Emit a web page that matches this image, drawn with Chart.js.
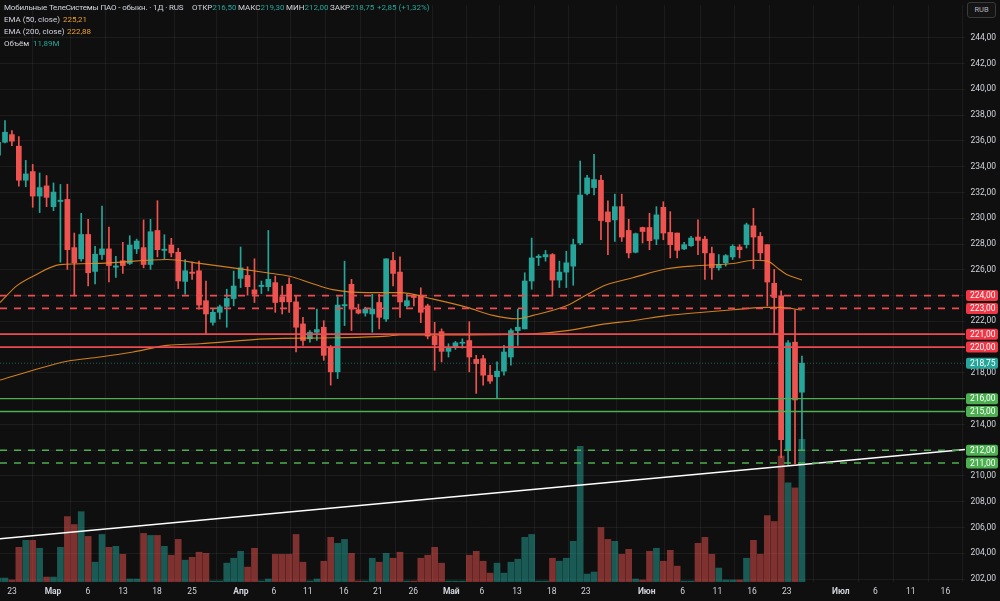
<!DOCTYPE html>
<html>
<head>
<meta charset="utf-8">
<script src="https://cdn.jsdelivr.net/npm/chart.js@4.4.1/dist/chart.umd.min.js"></script>
<style>
html,body{margin:0;padding:0;background:#0f0f0f;}
#wrap{position:relative;width:1000px;height:601px;background:#0f0f0f;overflow:hidden;}
#wrap canvas{position:absolute;left:0;top:0;}
.lg{position:absolute;font-family:Roboto,"Liberation Sans",sans-serif;font-size:8px;line-height:10px;white-space:nowrap;color:#d1d4dc;}
.t{color:#26a69a;}
.o{color:#f0a030;}
#rub{position:absolute;left:967px;top:2px;width:29px;height:16px;border:1px solid #3a3a3a;border-radius:3px;box-sizing:border-box;
font-family:Roboto,"Liberation Sans",sans-serif;font-size:7.5px;line-height:14px;text-align:center;color:#b2b5be;background:#141414;}
</style>
</head>
<body>
<div id="wrap">
<canvas id="c" width="1000" height="601"></canvas>
<div class="lg" style="left:4px;top:3px;letter-spacing:-0.15px;">Мобильные ТелеСистемы ПАО - обыкн. · 1Д · RUS</div>
<div class="lg" style="left:192px;top:3px;">ОТКР<span class="t">216,50</span></div>
<div class="lg" style="left:238px;top:3px;">МАКС<span class="t">219,30</span></div>
<div class="lg" style="left:286px;top:3px;">МИН<span class="t">212,00</span></div>
<div class="lg" style="left:330px;top:3px;">ЗАКР<span class="t">218,75</span></div>
<div class="lg t" style="left:377px;top:3px;">+2,85 (+1,32%)</div>
<div class="lg" style="left:4px;top:15px;">EMA (50, close)</div>
<div class="lg o" style="left:63px;top:15px;">225,21</div>
<div class="lg" style="left:4px;top:27px;">EMA (200, close)</div>
<div class="lg o" style="left:67px;top:27px;">222,88</div>
<div class="lg" style="left:4px;top:39px;">Объём</div>
<div class="lg t" style="left:33px;top:39px;">11,89M</div>
<div id="rub">RUB</div>
</div>
<script>
// ---- data (daily candles, index = bar number) ----
const opens  = [234.9,235.9,236.49,235.59,232.95,233.62,231.72,232.51,230.9,231.3,231.46,227.72,226.85,228.74,225.87,227.18,227.62,226.2,226.7,226.49,227.62,227.72,226.41,229.05,227.5,227.92,227.36,225.1,225.82,225.92,223.6,221.92,222.7,223.16,223.77,225.33,225.56,224.44,224.7,224.69,225.0,223.9,224.87,223.51,221.8,220.64,221.15,221.54,219.92,218.08,223.2,224.87,222.9,222.64,222.57,223.46,222.18,226.72,225.82,223.2,224.0,224.03,223.2,220.85,221.2,219.67,219.97,220.3,220.51,219.05,219.1,217.82,217.7,218.13,219.23,221.28,221.41,225.13,226.95,227.0,227.18,225.2,225.82,226.28,228.08,231.92,232.38,232.95,230.49,229.87,230.9,229.05,227.36,229.28,229.28,228.38,230.85,228.9,228.85,227.62,227.87,228.54,228.38,227.26,226.15,226.54,227.0,227.77,227.95,229.41,228.59,227.95,224.95,223.98,211.97,220.38,216.5];
const highs  = [236.3,237.57,236.8,236.34,234.49,234.18,233.51,233.31,232.74,232.62,232.64,228.85,230.38,229.92,227.82,230.95,229.31,227.05,228.13,228.64,228.38,229.87,229.92,231.36,228.72,228.44,227.67,226.8,226.59,226.67,225.13,222.95,223.26,224.49,225.9,227.77,226.23,226.85,225.13,229.05,225.51,224.74,225.38,223.98,222.31,221.28,222.95,222.05,220.13,223.92,226.67,225.26,223.33,223.1,224.1,224.1,226.85,227.36,227.0,224.1,224.1,224.6,223.33,221.92,221.41,220.26,220.44,220.64,221.97,219.36,219.36,218.59,218.85,220.13,221.41,222.95,225.77,228.46,227.18,227.5,227.26,226.67,227.44,228.38,234.44,233.33,234.95,233.33,231.36,231.87,231.87,229.92,228.85,229.31,230.38,230.9,231.28,230.51,228.85,228.13,228.59,229.87,228.59,227.77,227.18,227.18,227.95,227.95,229.62,230.77,228.9,227.95,226.03,224.36,220.51,222.9,219.3];
const lows   = [234.6,235.85,235.64,232.49,232.44,230.85,230.44,230.9,230.59,226.59,226.03,223.98,226.67,224.74,224.9,226.8,225.05,225.4,225.72,226.41,227.26,226.15,226.03,227.0,226.85,227.0,224.54,224.1,225.26,222.95,221.03,221.7,222.18,221.54,223.2,224.62,224.03,223.46,224.15,224.36,222.7,222.57,222.7,219.62,220.13,220.38,220.51,218.97,217.05,217.56,221.67,221.28,222.57,222.4,221.15,221.41,222.0,224.74,222.31,223.08,223.2,221.9,220.64,218.2,218.85,219.23,219.82,219.92,218.08,216.41,217.05,217.18,216.03,217.82,218.59,220.13,221.41,224.49,226.33,226.67,223.98,224.62,224.62,224.8,227.95,231.8,231.8,228.33,227.18,228.2,228.2,226.92,227.31,228.08,227.56,227.95,228.33,226.92,226.92,227.56,227.82,227.18,225.26,225.26,225.97,226.28,226.8,226.92,227.69,226.08,226.8,223.2,221.0,211.41,210.9,210.9,212.0];
const closes = [235.9,236.67,235.98,232.95,233.44,231.72,232.38,231.62,232.03,231.4,227.56,226.54,228.74,225.77,227.21,227.62,226.33,226.3,226.33,227.92,228.23,226.41,228.95,227.56,227.6,227.31,225.13,225.92,225.72,223.26,222.57,222.7,223.13,223.77,224.74,226.15,224.69,224.1,224.8,225.26,223.46,223.51,223.51,221.54,220.51,221.15,221.36,219.36,218.08,223.26,223.3,222.95,222.64,222.95,222.95,222.31,226.85,225.72,223.5,223.6,223.85,222.7,220.85,220.18,219.67,219.92,220.33,220.36,219.23,218.72,217.82,217.36,218.13,219.62,221.28,221.54,225.13,226.92,227.05,227.18,225.2,225.82,226.54,227.95,231.8,233.13,233.0,229.82,229.72,230.9,228.54,227.31,228.8,228.97,228.26,230.26,228.85,227.95,227.51,227.95,228.46,228.28,227.31,226.15,226.41,227.1,227.82,227.56,229.49,228.54,227.31,225.05,223.85,212.82,220.33,215.9,218.75];
const volumesM = [0.33,0.33,0.17,2.89,3.47,3.47,2.81,0.41,0.41,2.89,5.45,4.79,5.86,3.80,1.65,3.96,2.89,2.97,2.31,0.25,0.25,4.05,3.88,3.88,2.97,2.23,3.55,1.82,2.06,2.48,2.39,0.08,0.08,1.57,1.98,2.56,1.24,2.81,0.08,0.25,2.31,2.31,2.31,3.96,1.65,0.08,0.25,1.73,3.72,3.22,3.55,2.39,0.08,0.08,1.98,1.65,2.39,1.98,2.48,0.08,0.08,1.98,2.23,2.89,1.57,0.08,0.08,0.08,2.23,2.56,1.73,0.74,1.57,0.74,1.65,1.90,3.72,3.96,0.08,0.08,1.98,1.73,1.98,3.39,11.31,0.66,0.83,4.54,3.55,3.39,2.31,2.72,0.25,0.17,2.56,2.81,1.73,2.64,1.32,0.08,0.08,3.22,3.72,2.31,1.16,0.17,0.17,0.17,1.98,3.47,2.31,5.53,5.04,10.49,8.26,7.84,11.89];

// EMA values (bar position, value)
const ema50Bars = [0.28,2.73,5.04,8.94,14.7,24.4,29.1,33.9,38.8,42.1,45.0,48.3,53.2,58.0,62.8,67.7,71.4,74.9,77.2,82.1,85.0,87.6,91.6,96.5,101.3,106.1,109.0,111.0,112.8,113.8,116];
const ema50Vals = [223.46,224.77,225.5,226.4,226.5,226.8,226.5,226.15,225.77,225.5,225.0,224.46,224.23,224.23,223.72,223.08,222.46,222.2,222.46,223.23,224.08,224.8,225.38,226.08,226.33,226.49,226.74,226.67,226.0,225.64,225.21];
const ema200Bars = [0.28,5.04,9.95,14.7,19.5,24.4,29.1,38.8,48.3,56.1,58.0,67.7,77.2,82.1,87.6,91.6,96.5,101.3,106.1,111.0,112.8,116];
const ema200Vals = [217.44,218.2,218.9,219.23,219.62,220.13,220.26,220.64,220.72,220.85,220.95,220.95,221.03,221.28,221.8,222.05,222.44,222.69,222.9,223.08,223.08,222.88];

// drawings
const trendBars = [0.28,139.53];
const trendVals = [205.13,212.05];
const levelVals   = [224,223,221,220,216,215,212,211];
const levelColors = ['#ee4a52','#ee4a52','#ee4a52','#ee4a52','#4caf50','#4caf50','#4caf50','#4caf50'];
const levelDashed = [true,true,false,false,false,false,true,true];
const lastPrice = 218.75;

// axis ticks
const xTickPos = [2.0,7.93,12.98,18.03,22.93,27.98,35.05,39.8,44.7,49.9,54.8,59.9,65.4,69.8,74.9,79.9,84.8,93.6,98.8,103.8,108.8,113.8,121.6,126.6,131.7,136.7];
const xTickLabels = ['23','Мар','6','13','18','25','Апр','6','11','16','21','26','Май','6','13','18','23','Июн','6','11','16','23','Июл','6','11','16'];
const monthLabels = ['Мар','Апр','Май','Июн','Июл'];
const yTicks = [202,204,206,208,210,212,214,216,218,220,222,224,226,228,230,232,234,236,238,240,242,244];

const X_MIN = 0.28, X_MAX = 139.53;
const Y_MIN = 201.77, Y_MAX = 246.54;
const VOL_MAX = 48.06;

const UP = '#26a69a', DOWN = '#ef5350';
const up = closes.map((c,i)=>c>=opens[i]);
const fmt = v => v.toFixed(2).replace('.', ',');

Chart.defaults.font.family = "Roboto, 'Liberation Sans', sans-serif";
Chart.defaults.color = '#d1d4dc';

const datasets = [];
datasets.push({
  type:'bar', label:'vol', yAxisID:'yv', order:30, grouped:false,
  data: volumesM.map((v,i)=>({x:i,y:v})),
  backgroundColor: up.map(u=>u?'rgba(38,166,154,0.5)':'rgba(239,83,80,0.5)'),
  barThickness:6, borderWidth:0
});
datasets.push({
  type:'line', label:'trend', yAxisID:'y', order:25,
  data: trendBars.map((b,i)=>({x:b,y:trendVals[i]})),
  borderColor:'#ffffff', borderWidth:1.6, pointRadius:0
});
datasets.push({
  type:'bar', label:'wick', yAxisID:'y', order:6, grouped:false,
  data: highs.map((h,i)=>({x:i,y:[lows[i],h]})),
  backgroundColor: up.map(u=>u?UP:DOWN), barThickness:1, borderWidth:0
});
datasets.push({
  type:'bar', label:'body', yAxisID:'y', order:5, grouped:false,
  data: opens.map((o,i)=>({x:i,y:[o,closes[i]]})),
  backgroundColor: up.map(u=>u?UP:DOWN), barThickness:5, borderWidth:0, minBarLength:1
});
datasets.push({
  type:'line', label:'ema50', yAxisID:'y', order:4,
  data: ema50Bars.map((b,i)=>({x:b,y:ema50Vals[i]})),
  borderColor:'rgba(230,140,30,0.9)', borderWidth:1.1, pointRadius:0, cubicInterpolationMode:'monotone'
});
datasets.push({
  type:'line', label:'ema200', yAxisID:'y', order:4,
  data: ema200Bars.map((b,i)=>({x:b,y:ema200Vals[i]})),
  borderColor:'rgba(230,140,30,0.9)', borderWidth:1.1, pointRadius:0, cubicInterpolationMode:'monotone'
});
datasets.push({
  type:'line', label:'last', yAxisID:'y', order:3,
  data:[{x:X_MIN,y:lastPrice},{x:X_MAX,y:lastPrice}],
  borderColor:'rgba(38,166,154,0.55)', borderWidth:1, borderDash:[1,2], pointRadius:0
});
levelVals.forEach((lv,i)=>{
  datasets.push({
    type:'line', label:'lvl'+lv, yAxisID:'y', order:2,
    data:[{x:X_MIN,y:lv},{x:X_MAX,y:lv}],
    borderColor: levelColors[i], borderWidth: i<4 ? 1.8 : 1.4,
    borderDash: levelDashed[i] ? [7,7] : [], pointRadius:0
  });
});

const boxPlugin = {
  id:'boxes',
  afterDraw(chart){
    const ctx = chart.ctx, ys = chart.scales.y;
    const items = levelVals.map((v,i)=>({v, c:levelColors[i]==='#ee4a52'?'#f23645':'#4caf50'}));
    items.push({v:lastPrice, c:'#26a69a'});
    ctx.save();
    ctx.font = "8.5px Roboto, 'Liberation Sans', sans-serif";
    ctx.textAlign = 'right'; ctx.textBaseline = 'middle';
    items.forEach(it=>{
      const py = ys.getPixelForValue(it.v);
      ctx.fillStyle = it.c;
      ctx.beginPath();
      if (ctx.roundRect) ctx.roundRect(966, py-5.5, 32, 11, 2); else ctx.rect(966, py-5.5, 32, 11);
      ctx.fill();
      ctx.fillStyle = '#ffffff';
      ctx.fillText(fmt(it.v), 995.5, py+0.5);
    });
    ctx.restore();
  }
};

new Chart(document.getElementById('c'), {
  type:'bar',
  data:{datasets},
  plugins:[boxPlugin],
  options:{
    responsive:false, animation:false,
    layout:{padding:{left:0,right:4,top:0,bottom:0}},
    plugins:{legend:{display:false}, tooltip:{enabled:false}},
    scales:{
      x:{
        type:'linear', min:X_MIN, max:X_MAX, offset:false,
        afterBuildTicks: s => { s.ticks = xTickPos.map(v=>({value:v})); },
        afterFit: s => { s.height = 19; },
        grid:{color:'rgba(255,255,255,0.055)', drawTicks:false},
        border:{display:false},
        ticks:{
          autoSkip:false, maxRotation:0, padding:5, color:'#d1d4dc',
          font: ctx => ({size:8.5, weight: monthLabels.includes(xTickLabels[ctx.index]) ? 'bold' : 'normal'}),
          callback:(v,i)=>xTickLabels[i]
        }
      },
      y:{
        type:'linear', position:'right', min:Y_MIN, max:Y_MAX,
        afterBuildTicks: s => { s.ticks = yTicks.map(v=>({value:v})); },
        afterFit: s => { s.width = 31; },
        grid:{color:'rgba(255,255,255,0.055)', drawTicks:false},
        border:{display:false},
        ticks:{autoSkip:false, crossAlign:'far', padding:0, color:'#d1d4dc', font:{size:8.5}, callback:v=>fmt(v)}
      },
      yv:{type:'linear', display:false, min:0, max:VOL_MAX, grid:{display:false}}
    }
  }
});
</script>
</body>
</html>
